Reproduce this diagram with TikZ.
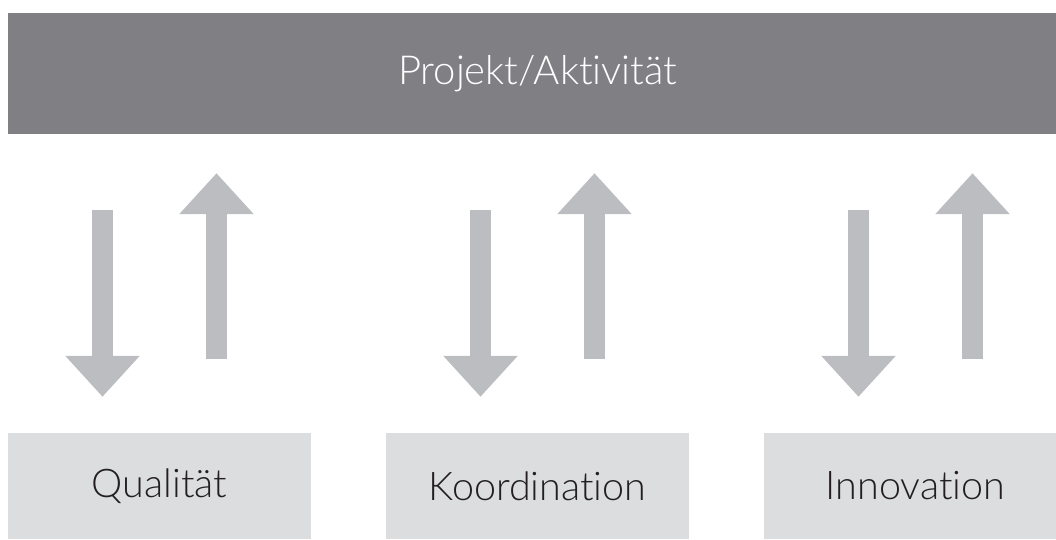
\documentclass[tikz,border=0pt]{standalone}
\usepackage{fontspec}
\setmainfont{Lato Light}[Ligatures=NoCommon]
\usetikzlibrary{arrows.meta,calc}
\definecolor{bargray}{HTML}{808084}
\definecolor{arrowgray}{HTML}{BCBDC1}
\definecolor{boxgray}{HTML}{DCDDDF}
\definecolor{textdark}{HTML}{231F20}
\tikzset{
  topbar/.style={fill=bargray, text=white, minimum width=1059pt, minimum height=121pt, inner sep=0pt, font=\fontsize{40}{48}\selectfont},
  field/.style={fill=boxgray, text=textdark, minimum width=303pt, minimum height=106pt, inner sep=0pt, font=\fontsize{39.5}{47}\selectfont},
  flow/.style={draw=arrowgray, line width=21pt, -{Triangle[length=41pt,width=72pt]}}
}
\begin{document}
\begin{tikzpicture}[x=1pt,y=1pt]
\clip (0,0) rectangle (1056,539);
\node[topbar] (projekt) at (537.5,465.5) {Projekt/Aktivität};
% the three fields below
\node[field] (qual) at (159.5,53) {Qualität};
\node[field] (koord) at (537.5,53) {Koordination};
\node[field] (innov) at (915.5,53) {Innovation};
\foreach \f in {qual,koord,innov}{
  \draw[flow] ($(projekt.south -| \f.north)+(-57,-76)$) -- ($(\f.north)+(-57,36)$);
  \draw[flow] ($(\f.north)+(57,74)$) -- ($(projekt.south -| \f.north)+(57,-39)$);
}
\end{tikzpicture}
\end{document}
